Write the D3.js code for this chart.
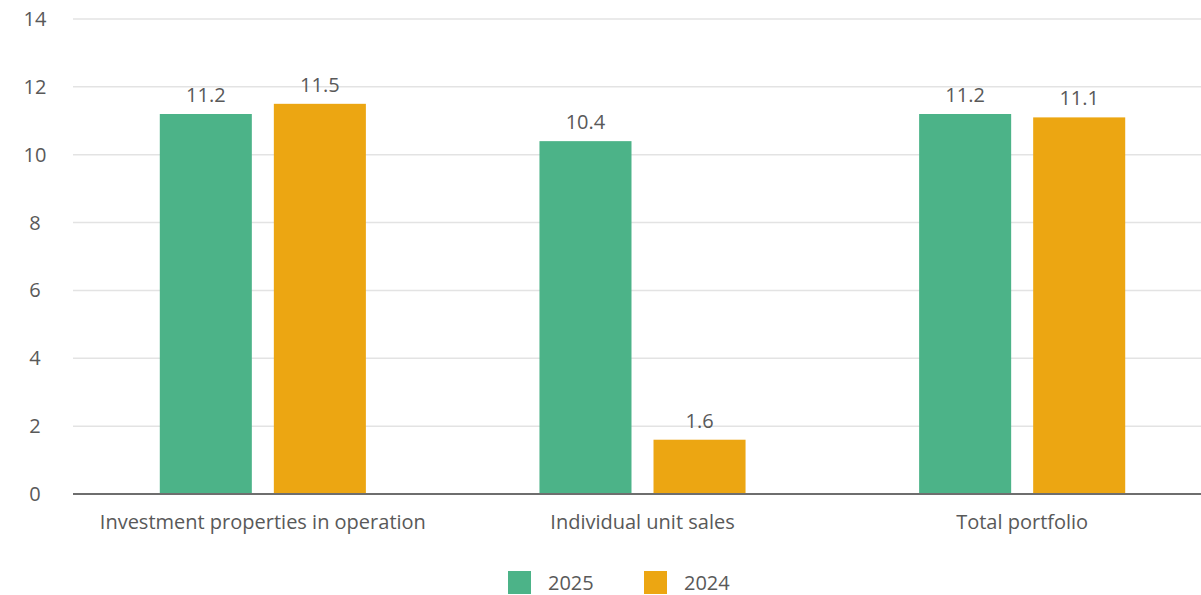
<!DOCTYPE html>
<html>
<head>
<meta charset="utf-8">
<script src="https://cdn.jsdelivr.net/npm/d3@7"></script>
<style>
  body { margin: 0; background: #fff; }
  svg { display: block; font-family: "Open Sans", Lato, sans-serif; }
</style>
</head>
<body>
<div id="chart"></div>
<script>
const categories = ['Investment properties in operation', 'Individual unit sales', 'Total portfolio'];
const seriesNames = ['2025', '2024'];
const values2025 = [11.2, 10.4, 11.2];
const values2024 = [11.5, 1.6, 11.1];
const yTicks = [0, 2, 4, 6, 8, 10, 12, 14];

const colors = { '2025': '#4cb388', '2024': '#eca612' };

const data = categories.map((c, i) => ({
  category: c,
  values: [
    { key: '2025', value: values2025[i] },
    { key: '2024', value: values2024[i] }
  ]
}));

const width = 1201;
const height = 595;
const margin = { top: 19, left: 73, bottom: 101 };
const innerHeight = height - margin.top - margin.bottom;
const fontSize = '20px';

const svg = d3.select('#chart')
  .append('svg')
  .attr('width', width)
  .attr('height', height);

const g = svg.append('g')
  .attr('transform', `translate(${margin.left},${margin.top})`);

const x0 = d3.scaleBand()
  .domain(categories)
  .range([0, 1139]);

const x1 = d3.scaleBand()
  .domain(seriesNames)
  .range([0, x0.bandwidth()])
  .paddingInner(0.193)
  .paddingOuter(0.761);

const y = d3.scaleLinear()
  .domain([0, 14])
  .range([innerHeight, 0]);

// gridlines
g.selectAll('.grid')
  .data(yTicks.filter(d => d > 0))
  .enter()
  .append('line')
  .attr('x1', 0)
  .attr('x2', width - margin.left)
  .attr('y1', d => y(d))
  .attr('y2', d => y(d))
  .attr('stroke', '#e3e3e3')
  .attr('stroke-width', 1.5);

// y tick labels
g.selectAll('.ylab')
  .data(yTicks)
  .enter()
  .append('text')
  .attr('x', -38)
  .attr('y', d => y(d))
  .attr('dy', '0.35em')
  .attr('text-anchor', 'middle')
  .attr('font-size', fontSize)
  .attr('fill', '#595959')
  .text(d => d);

const groups = g.selectAll('.group')
  .data(data)
  .enter()
  .append('g')
  .attr('transform', d => `translate(${x0(d.category)},0)`);

groups.selectAll('rect')
  .data(d => d.values)
  .enter()
  .append('rect')
  .attr('x', d => x1(d.key))
  .attr('y', d => y(d.value))
  .attr('width', x1.bandwidth())
  .attr('height', d => innerHeight - y(d.value))
  .attr('fill', d => colors[d.key]);

groups.selectAll('.val')
  .data(d => d.values)
  .enter()
  .append('text')
  .attr('x', d => x1(d.key) + x1.bandwidth() / 2)
  .attr('y', d => y(d.value) - 12)
  .attr('text-anchor', 'middle')
  .attr('font-size', fontSize)
  .attr('fill', '#595959')
  .text(d => d.value.toFixed(1));

// baseline
g.append('line')
  .attr('x1', 0)
  .attr('x2', width - margin.left)
  .attr('y1', y(0))
  .attr('y2', y(0))
  .attr('stroke', '#6e6e6e')
  .attr('stroke-width', 2);

// category labels
g.selectAll('.xlab')
  .data(categories)
  .enter()
  .append('text')
  .attr('x', d => x0(d) + x0.bandwidth() / 2)
  .attr('y', innerHeight + 28)
  .attr('dy', '0.35em')
  .attr('text-anchor', 'middle')
  .attr('font-size', fontSize)
  .attr('fill', '#595959')
  .text(d => d);

// legend
const legend = svg.append('g')
  .attr('transform', 'translate(508,571)');

const legendItem = legend.selectAll('.item')
  .data(seriesNames)
  .enter()
  .append('g')
  .attr('transform', (d, i) => `translate(${i * 136},0)`);

legendItem.append('rect')
  .attr('width', 23)
  .attr('height', 23)
  .attr('fill', d => colors[d]);

legendItem.append('text')
  .attr('x', 40)
  .attr('y', 11.5)
  .attr('dy', '0.35em')
  .attr('font-size', fontSize)
  .attr('fill', '#595959')
  .text(d => d);
</script>
</body>
</html>
